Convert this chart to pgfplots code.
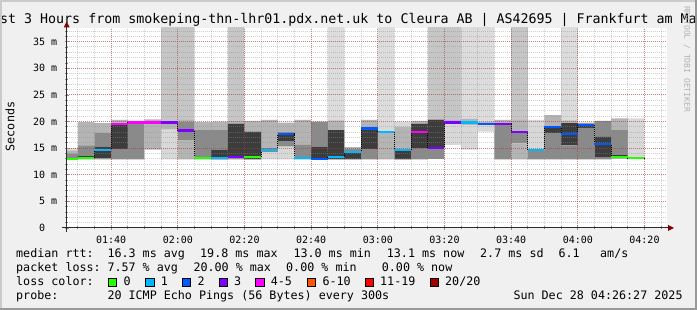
\documentclass[border=0pt]{standalone}
\usepackage{pgfplots}
\pgfplotsset{compat=1.18}
\usepackage{pgfplotstable}
\usepackage{fontspec}
\setmainfont{DejaVu Sans Mono}
\setmonofont{DejaVu Sans Mono}
\newcommand{\fs}[1]{\fontsize{#1}{#1}\selectfont}

\definecolor{bgc}{HTML}{F0F0F0}
\definecolor{shadea}{HTML}{CBCBCB}
\definecolor{shadeb}{HTML}{999999}
\definecolor{gridc}{HTML}{8C8C8C}
\definecolor{mgridc}{HTML}{B01212}
\definecolor{axisc}{HTML}{2C2C2C}
\definecolor{arrowc}{HTML}{7F0000}
\definecolor{sVL}{HTML}{D8D8D8}
\definecolor{sL}{HTML}{B4B4B4}
\definecolor{sM}{HTML}{8A8A8A}
\definecolor{sD}{HTML}{3C3C3C}
\definecolor{sTa}{HTML}{C6C6C6}
\definecolor{sTb}{HTML}{DCDCDC}
\definecolor{lA}{HTML}{26FF00}
\definecolor{lB}{HTML}{00B8FF}
\definecolor{lC}{HTML}{0059FF}
\definecolor{lD}{HTML}{7E00FF}
\definecolor{lE}{HTML}{FF00FF}
\definecolor{lF}{HTML}{FF5500}
\definecolor{lG}{HTML}{FF0000}
\definecolor{lH}{HTML}{A00000}

% smoke: interval centre (minutes after midnight), band boundaries in ms,
% ta = top of darker outlier column, tb = top of lighter outlier column
\pgfplotstableread{
x     lo   b1   b2   b3   b4   b5   b6   hi   ta   tb
87.5  12.8 12.8 12.8 13.0 13.0 14.0 14.6 15.0 15.0 15.0
92.5  12.9 12.9 12.9 13.0 13.5 15.5 19.9 19.9 19.9 19.9
97.5  12.9 12.9 12.9 13.1 15.3 17.8 19.7 19.7 19.7 19.7
102.5 12.9 12.9 12.9 14.8 19.4 19.8 20.3 20.3 20.3 20.3
107.5 12.9 12.9 12.9 19.6 19.6 19.6 20.1 20.1 20.1 20.1
112.5 14.7 14.7 19.6 20.1 20.1 20.1 20.4 20.4 20.4 20.4
117.5 12.9 18.5 19.5 20.0 20.0 20.0 20.2 20.2 38.0 38.0
122.5 12.9 12.9 16.5 20.0 20.0 20.0 20.3 20.3 38.0 38.0
127.5 12.9 12.9 12.9 18.4 18.4 18.4 19.9 19.9 19.9 19.9
132.5 12.9 12.9 12.9 12.9 14.7 18.4 20.0 20.0 20.0 20.0
137.5 12.9 12.9 12.9 13.1 19.6 19.6 20.2 20.2 38.0 38.0
142.5 12.9 12.9 12.9 12.9 18.1 18.1 20.1 20.1 20.1 20.1
147.5 12.9 14.2 14.2 15.0 15.0 15.0 20.3 20.3 20.3 20.3
152.5 12.9 15.3 15.3 16.3 17.6 18.0 19.8 19.8 19.8 19.8
157.5 12.9 12.9 12.9 15.6 15.6 15.6 20.3 20.3 20.3 20.3
162.5 12.8 12.8 12.8 12.8 15.3 20.0 20.0 20.0 20.0 20.0
167.5 12.9 12.9 12.9 12.9 18.4 18.4 20.2 20.2 20.2 38.0
172.5 12.9 12.9 12.9 12.9 14.2 14.8 15.2 15.2 15.2 15.2
177.5 12.9 12.9 12.9 14.8 18.8 18.8 20.3 20.3 20.3 20.3
182.5 12.9 12.9 18.0 18.0 18.0 18.0 18.0 20.0 20.0 38.0
187.5 12.9 12.9 12.9 12.9 14.5 14.5 19.0 20.0 20.0 20.0
192.5 12.9 12.9 12.9 15.0 19.6 19.6 20.1 20.1 20.1 20.1
197.5 13.0 13.0 13.0 15.2 20.3 20.3 20.6 20.6 38.0 38.0
202.5 15.6 19.5 20.4 20.4 20.4 20.4 20.4 20.4 38.0 38.0
207.5 14.7 19.3 20.5 20.5 20.5 20.5 20.5 20.5 20.5 38.0
212.5 18.1 19.4 19.9 19.9 19.9 19.9 19.9 19.9 19.9 38.0
217.5 12.9 12.9 12.9 19.4 19.4 19.4 20.3 20.3 20.3 20.3
222.5 12.9 12.9 15.9 18.3 18.3 18.3 20.3 20.3 38.0 38.0
227.5 12.9 12.9 12.9 14.5 14.5 14.5 14.5 20.3 20.3 20.3
232.5 12.9 12.9 12.9 17.8 19.1 19.1 21.2 21.2 21.2 21.2
237.5 12.9 12.9 12.9 15.5 19.7 19.7 20.2 20.2 20.2 38.0
242.5 12.9 12.9 12.9 18.8 19.6 19.6 19.8 19.8 19.8 19.8
247.5 12.9 12.9 12.9 13.2 17.1 20.1 20.1 20.1 20.1 20.1
252.5 13.1 13.1 13.1 13.1 13.8 18.4 20.6 20.6 20.6 20.6
257.5 13.1 20.6 20.6 20.6 20.6 20.6 20.6 20.6 20.6 20.6
}\smoke

% median rtt (step start, ms)
\pgfplotstableread{
x   v
85  13.0
90  13.2
95  14.7
100 19.5
105 19.8
110 19.8
115 19.8
120 18.3
125 13.2
130 13.2
135 13.4
140 13.4
145 14.6
150 17.7
155 13.2
160 13.0
165 13.3
170 14.3
175 18.7
180 18.1
185 14.7
190 18.1
195 15.1
200 19.8
205 19.8
210 19.6
215 19.6
220 18.1
225 14.7
230 19.0
235 17.7
240 19.3
245 15.8
250 13.4
255 13.1
260 13.1
}\med

\begin{document}
\begin{tikzpicture}
\useasboundingbox (0pt,0pt) rectangle (697pt,310pt);
\fill[bgc] (0pt,0pt) rectangle (697pt,310pt);
\clip (0pt,0pt) rectangle (697pt,310pt);
\fill[white] (66.7pt,82pt) rectangle (666.7pt,282pt);

% title
\node[anchor=base, inner sep=0pt, font=\fs{13.3}] at (348.5pt,286pt) {Last 3 Hours from smokeping-thn-lhr01.pdx.net.uk to Cleura AB | AS42695 | Frankfurt am Main};

% smoke
\begin{axis}[at={(66.7pt,82pt)}, anchor=south west, scale only axis,
  width=600pt, height=200pt,
  xmin=86.667, xmax=266.667, ymin=0, ymax=37.57,
  hide axis, ybar stacked, bar width=5]
\addplot[draw=none, fill=none] table[x=x, y=lo] {\smoke};
\addplot[draw=none, fill=sVL] table[x=x, y expr=\thisrow{b1}-\thisrow{lo}] {\smoke};
\addplot[draw=none, fill=sL] table[x=x, y expr=\thisrow{b2}-\thisrow{b1}] {\smoke};
\addplot[draw=none, fill=sM] table[x=x, y expr=\thisrow{b3}-\thisrow{b2}] {\smoke};
\addplot[draw=none, fill=sD] table[x=x, y expr=\thisrow{b4}-\thisrow{b3}] {\smoke};
\addplot[draw=none, fill=sM] table[x=x, y expr=\thisrow{b5}-\thisrow{b4}] {\smoke};
\addplot[draw=none, fill=sL] table[x=x, y expr=\thisrow{b6}-\thisrow{b5}] {\smoke};
\addplot[draw=none, fill=sVL] table[x=x, y expr=\thisrow{hi}-\thisrow{b6}] {\smoke};
\addplot[draw=none, fill=sTa] table[x=x, y expr=\thisrow{ta}-\thisrow{hi}] {\smoke};
\addplot[draw=none, fill=sTb] table[x=x, y expr=\thisrow{tb}-\thisrow{ta}] {\smoke};
\end{axis}

% grid, ticks, median
\begin{axis}[at={(66.7pt,82pt)}, anchor=south west, scale only axis,
  width=600pt, height=200pt,
  xmin=86.667, xmax=266.667, ymin=0, ymax=37.57,
  axis x line*=bottom, axis y line*=left, axis line style={draw=none},
  xtick={100,120,...,260},
  xticklabels={01:40,02:00,02:20,02:40,03:00,03:20,03:40,04:00,04:20},
  minor xtick={90,95,...,265},
  ytick={0,5,...,35},
  yticklabels={0\phantom{\ m},5 m,10 m,15 m,20 m,25 m,30 m,35 m},
  minor ytick={1,...,37},
  grid=both,
  major grid style={draw=mgridc, draw opacity=0.4, line width=1pt, dash pattern=on 1pt off 1pt},
  minor grid style={draw=gridc, draw opacity=0.4, line width=1pt, dash pattern=on 1pt off 1pt},
  tick align=center, major tick length=4pt, minor tick length=3pt,
  tick style={draw=gridc, line width=0.8pt},
  xticklabel style={font=\fs{10}, inner sep=0pt, yshift=-5.5pt},
  yticklabel style={font=\fs{10}, inner sep=0pt, anchor=east, xshift=-7.4pt},
  unbounded coords=jump]
\addplot[const plot, black, line width=0.9pt, dash pattern=on 1pt off 1pt] table[x=x, y=v] {\med};
\addplot[lA, line width=2.2pt] coordinates {(85,13.0) (90,13.0) (90,nan) (90,13.2) (95,13.2) (95,nan) (125,13.2) (130,13.2) (130,nan) (140,13.4) (145,13.4) (145,nan) (250,13.4) (255,13.4) (255,nan) (255,13.1) (260,13.1)};
\addplot[lB, line width=2.2pt] coordinates {(95,14.7) (100,14.7) (100,nan) (130,13.2) (135,13.2) (135,nan) (145,14.6) (150,14.6) (150,nan) (155,13.2) (160,13.2) (160,nan) (165,13.3) (170,13.3) (170,nan) (170,14.3) (175,14.3) (175,nan) (180,18.1) (185,18.1) (185,nan) (185,14.7) (190,14.7) (190,nan) (205,19.8) (210,19.8) (210,nan) (225,14.7) (230,14.7)};
\addplot[lC, line width=2.2pt] coordinates {(150,17.7) (155,17.7) (155,nan) (160,13.0) (165,13.0) (165,nan) (175,18.7) (180,18.7) (180,nan) (210,19.6) (215,19.6) (215,nan) (230,19.0) (235,19.0) (235,nan) (235,17.7) (240,17.7) (240,nan) (240,19.3) (245,19.3) (245,nan) (245,15.8) (250,15.8)};
\addplot[lD, line width=2.2pt] coordinates {(115,19.8) (120,19.8) (120,nan) (120,18.3) (125,18.3) (125,nan) (135,13.4) (140,13.4) (140,nan) (195,15.1) (200,15.1) (200,nan) (200,19.8) (205,19.8) (205,nan) (215,19.6) (220,19.6) (220,nan) (220,18.1) (225,18.1)};
\addplot[lE, line width=2.2pt] coordinates {(100,19.5) (105,19.5) (105,nan) (105,19.8) (110,19.8) (110,nan) (110,19.8) (115,19.8) (115,nan) (190,18.1) (195,18.1)};
\end{axis}

% axes with arrows
\draw[axisc, line width=1pt] (61.7pt,82pt) -- (669pt,82pt);
\fill[arrowc] (668pt,79pt) -- (674pt,82pt) -- (668pt,85pt) -- cycle;
\draw[axisc, line width=1pt] (66.7pt,77.5pt) -- (66.7pt,283pt);
\fill[arrowc] (63.7pt,282.5pt) -- (66.7pt,288.5pt) -- (69.7pt,282.5pt) -- cycle;

% y label and watermark
\node[rotate=90, inner sep=0pt, font=\fs{11.7}] at (10pt,183.5pt) {Seconds};
\node[rotate=-90, inner sep=0pt, font=\fs{8}, text=black!30] at (687pt,251pt) {RRDTOOL / TOBI OETIKER};

% legend
\begin{scope}[every node/.style={anchor=base west, inner sep=0pt, font=\fs{11.7}}]
\node at (16pt,52pt) {median rtt:};
\node at (107.3pt,52pt) {16.3 ms avg};
\node at (200pt,52pt) {19.8 ms max};
\node at (293.3pt,52pt) {13.0 ms min};
\node at (386.7pt,52pt) {13.1 ms now};
\node at (480pt,52pt) {2.7 ms sd};
\node at (558.3pt,52pt) {6.1};
\node at (600pt,52pt) {am/s};
\node at (16pt,38pt) {packet loss:};
\node at (107.3pt,38pt) {7.57 \% avg};
\node at (193.3pt,38pt) {20.00 \% max};
\node at (286pt,38pt) {0.00 \% min};
\node at (381.7pt,38pt) {0.00 \% now};
\node at (16pt,24pt) {loss color:};
\node at (123.3pt,24pt) {0};
\node at (160.7pt,24pt) {1};
\node at (197.3pt,24pt) {2};
\node at (234pt,24pt) {3};
\node at (270.7pt,24pt) {4-5};
\node at (322.3pt,24pt) {6-10};
\node at (380pt,24pt) {11-19};
\node at (445pt,24pt) {20/20};
\node at (16pt,10pt) {probe:};
\node at (107.3pt,10pt) {20 ICMP Echo Pings (56 Bytes) every 300s};
\node at (513.3pt,10pt) {Sun Dec 28 04:26:27 2025};
\end{scope}
\foreach \bx/\bc in {108.3/lA,145.7/lB,182.3/lC,219/lD,255.7/lE,307.3/lF,365/lG,430/lH}
  \draw[fill=\bc, draw=black, line width=0.9pt] (\bx pt,23.3pt) rectangle ++(8.3pt,8.3pt);

% frame shading
\fill[shadea] (0pt,308pt) rectangle (697pt,310pt);
\fill[shadea] (0pt,0pt) rectangle (2pt,310pt);
\fill[shadeb] (0pt,0pt) rectangle (697pt,2pt);
\fill[shadeb] (695pt,0pt) rectangle (697pt,310pt);
\end{tikzpicture}
\end{document}
